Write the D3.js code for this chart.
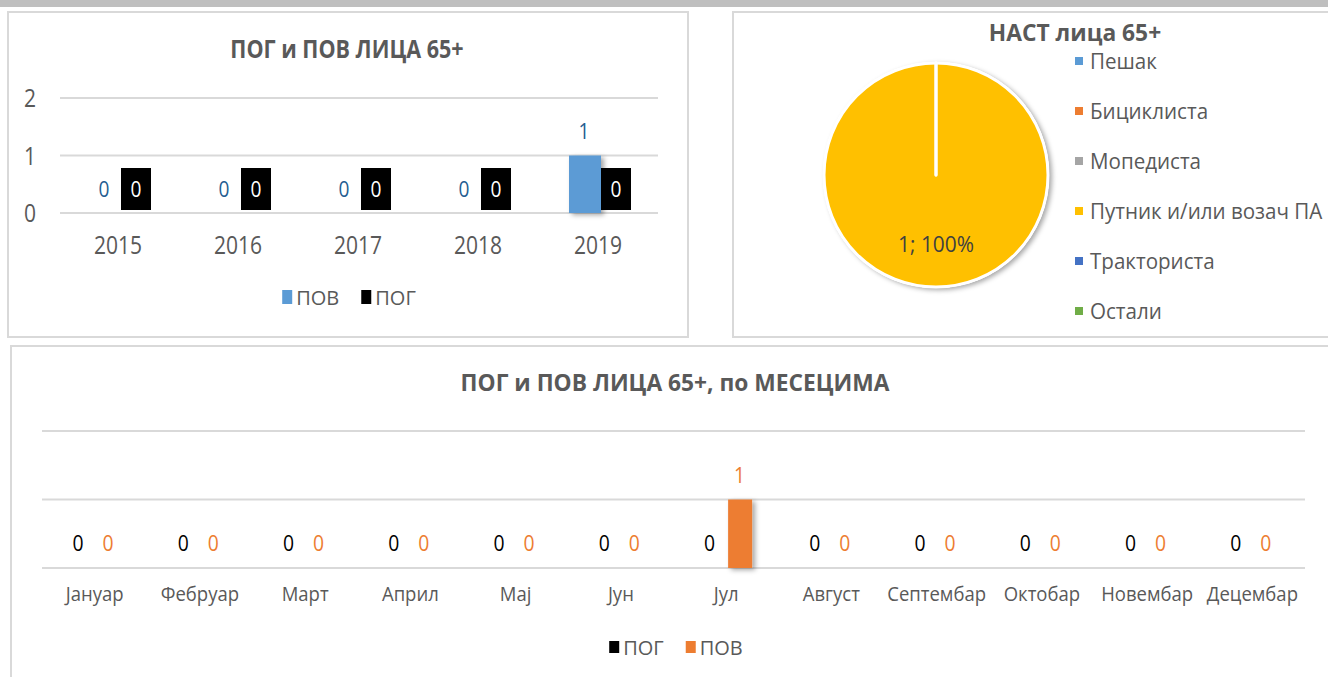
<!DOCTYPE html>
<html>
<head>
<meta charset="utf-8">
<script src="https://cdn.jsdelivr.net/npm/d3@7"></script>
<style>
  body { margin: 0; background: #fff; }
  svg { display: block; }
  text { font-family: "Open Sans", "Noto Sans", sans-serif; }
</style>
</head>
<body>
<svg id="chart" width="1328" height="677"></svg>
<script>
// data
const years = ["2015", "2016", "2017", "2018", "2019"];
const povByYear = [0, 0, 0, 0, 1];
const pogByYear = [0, 0, 0, 0, 0];

const pieCategories = ["Пешак", "Бициклиста", "Мопедиста", "Путник и/или возач ПА", "Тракториста", "Остали"];
const pieValues = [0, 0, 0, 1, 0, 0];
const pieColors = ["#5b9bd5", "#ed7d31", "#a5a5a5", "#ffc000", "#4472c4", "#70ad47"];

const months = ["Јануар", "Фебруар", "Март", "Април", "Мај", "Јун", "Јул", "Август", "Септембар", "Октобар", "Новембар", "Децембар"];
const pogByMonth = [0, 0, 0, 0, 0, 0, 0, 0, 0, 0, 0, 0];
const povByMonth = [0, 0, 0, 0, 0, 0, 1, 0, 0, 0, 0, 0];

const yTicks = [0, 1, 2];

const textColor = "#595959";
const gridColor = "#d9d9d9";

const svg = d3.select("#chart");

// the original text looks tall and narrow (Calibri, stretched), so squeeze it horizontally
const tr = (x, y, s) => `translate(${x},${y}) scale(${s},1)`;

// shadow for bars and pie
const defs = svg.append("defs");
const shadow = defs.append("filter").attr("id", "shadow")
    .attr("x", "-30%").attr("y", "-10%").attr("width", "170%").attr("height", "130%");
shadow.append("feDropShadow")
    .attr("dx", 3).attr("dy", 2).attr("stdDeviation", 2.5)
    .attr("flood-color", "#000").attr("flood-opacity", 0.35);

// top strip
svg.append("rect").attr("x", 0).attr("y", 0).attr("width", 1328).attr("height", 7).attr("fill", "#bfbfbf");

// panels
function panel(x, y, w, h) {
    svg.append("rect")
        .attr("x", x).attr("y", y).attr("width", w).attr("height", h)
        .attr("fill", "#fff").attr("stroke", gridColor).attr("stroke-width", 2);
}
panel(8, 12, 680, 325);
panel(733, 12, 600, 325);
panel(11, 346, 1325, 340);

function title(x, y, txt, size, s) {
    svg.append("text").attr("transform", tr(x, y, s))
        .attr("text-anchor", "middle")
        .attr("font-size", size).attr("font-weight", "bold")
        .attr("fill", textColor).text(txt);
}

function legend(items, cx, y, sw, sh) {
    const g = svg.append("g");
    let x = 0;
    items.forEach(it => {
        const item = g.append("g").attr("transform", `translate(${x},0)`);
        item.append("rect").attr("x", 0).attr("y", y - sh / 2 - 1).attr("width", sw).attr("height", sh).attr("fill", it.color);
        const t = item.append("text").attr("x", sw + 4).attr("y", y + 7)
            .attr("font-size", 20).attr("fill", textColor).text(it.name);
        x += sw + 4 + t.node().getComputedTextLength() + 22;
    });
    const w = x - 22;
    g.attr("transform", `translate(${cx - w / 2},0)`);
}

// ---------- chart 1: by year ----------
{
    const x = d3.scaleBand().domain(years).range([58, 658]);
    const sub = d3.scaleBand().domain(["ПОВ", "ПОГ"]).range([0, 60]);
    const y = d3.scaleLinear().domain([0, 2]).range([213, 98]);

    title(347, 58, "ПОГ и ПОВ ЛИЦА 65+", 24.5, 0.88);

    svg.append("g").selectAll("line").data(yTicks).join("line")
        .attr("x1", 60).attr("x2", 658)
        .attr("y1", d => y(d)).attr("y2", d => y(d))
        .attr("stroke", gridColor).attr("stroke-width", 2);

    svg.append("g").selectAll("text").data(yTicks).join("text")
        .attr("transform", d => tr(30, y(d) + 9, 0.81))
        .attr("text-anchor", "middle").attr("font-size", 26).attr("fill", textColor)
        .text(d => d);

    svg.append("g").selectAll("text").data(years).join("text")
        .attr("transform", d => tr(x(d) + x.bandwidth() / 2, 254, 0.81))
        .attr("text-anchor", "middle").attr("font-size", 26).attr("fill", textColor)
        .text(d => d);

    const grpX = d => x(d) + x.bandwidth() / 2 - 29;

    // ПОВ bars
    svg.append("g").selectAll("rect").data(years).join("rect")
        .attr("x", d => grpX(d) + sub("ПОВ"))
        .attr("width", sub.bandwidth() + 2)
        .attr("y", (d, i) => y(povByYear[i]))
        .attr("height", (d, i) => y(0) - y(povByYear[i]))
        .attr("fill", "#5b9bd5")
        .attr("filter", "url(#shadow)");

    // ПОВ labels
    svg.append("g").selectAll("text").data(years).join("text")
        .attr("transform", (d, i) => tr(grpX(d) + sub("ПОВ") + sub.bandwidth() / 2,
            povByYear[i] > 0 ? y(povByYear[i]) - 17 : 197, 0.87))
        .attr("text-anchor", "middle").attr("font-size", 22).attr("fill", "#255e91")
        .text((d, i) => povByYear[i]);

    // ПОГ bars (zero height) and black label boxes
    svg.append("g").selectAll("rect").data(years).join("rect")
        .attr("x", d => grpX(d) + sub("ПОГ") + 2)
        .attr("width", sub.bandwidth() - 1)
        .attr("y", (d, i) => y(pogByYear[i]))
        .attr("height", (d, i) => y(0) - y(pogByYear[i]))
        .attr("fill", "#000");

    const pogLab = svg.append("g").selectAll("g").data(years).join("g")
        .attr("transform", d => `translate(${grpX(d) + sub("ПОГ") + 2},168)`);
    pogLab.append("rect").attr("width", 30).attr("height", 42).attr("fill", "#000");
    pogLab.append("text").attr("transform", tr(15, 29, 0.87))
        .attr("text-anchor", "middle").attr("font-size", 22).attr("fill", "#fff")
        .text((d, i) => pogByYear[i]);

    legend([{ name: "ПОВ", color: "#5b9bd5" }, { name: "ПОГ", color: "#000" }], 349, 298, 10, 14);
}

// ---------- chart 2: pie ----------
{
    const cx = 936, cy = 175, r = 112;
    title(1075, 41, "НАСТ лица 65+", 23.5, 0.97);

    const pie = d3.pie().sort(null).value(d => d)(pieValues);
    const arc = d3.arc().innerRadius(0).outerRadius(r);

    const g = svg.append("g").attr("transform", `translate(${cx},${cy})`);
    g.append("circle").attr("r", r + 1).attr("fill", "#fff").attr("filter", "url(#shadow)");
    g.selectAll("path").data(pie).join("path")
        .attr("d", arc)
        .attr("fill", (d, i) => pieColors[i])
        .attr("stroke", "#fff").attr("stroke-width", 3).attr("stroke-linejoin", "round");

    const total = d3.sum(pieValues);
    pie.forEach((d, i) => {
        if (d.value <= 0) return;
        g.append("text").attr("transform", tr(0, 77, 0.95))
            .attr("text-anchor", "middle").attr("font-size", 22).attr("fill", "#404040")
            .text(`${d.value}; ${Math.round(d.value / total * 100)}%`);
    });

    const ly = d3.scalePoint().domain(pieCategories).range([61, 311]);
    const lg = svg.append("g").selectAll("g").data(pieCategories).join("g")
        .attr("transform", d => `translate(1075,${ly(d)})`);
    lg.append("rect").attr("x", 0).attr("y", -4).attr("width", 8).attr("height", 8)
        .attr("fill", (d, i) => pieColors[i]);
    lg.append("text").attr("transform", tr(15, 8, 0.98))
        .attr("font-size", 21).attr("fill", textColor).text(d => d);
}

// ---------- chart 3: by month ----------
{
    const x = d3.scaleBand().domain(months).range([42, 1305]);
    const y = d3.scaleLinear().domain([0, 2]).range([568, 431]);
    const sub = d3.scaleBand().domain(["ПОГ", "ПОВ"]).range([-29, 29]);

    title(675, 391, "ПОГ и ПОВ ЛИЦА 65+, по МЕСЕЦИМА", 23, 0.99);

    svg.append("g").selectAll("line").data(yTicks).join("line")
        .attr("x1", 42).attr("x2", 1305)
        .attr("y1", d => y(d)).attr("y2", d => y(d))
        .attr("stroke", gridColor).attr("stroke-width", 2);

    svg.append("g").selectAll("text").data(months).join("text")
        .attr("transform", d => tr(x(d) + x.bandwidth() / 2, 601, 0.95))
        .attr("text-anchor", "middle").attr("font-size", 19.5).attr("fill", textColor)
        .text(d => d);

    const cx = d => x(d) + x.bandwidth() / 2;

    svg.append("g").selectAll("rect").data(months).join("rect")
        .attr("x", d => cx(d) + sub("ПОВ") + 2)
        .attr("width", sub.bandwidth() - 5)
        .attr("y", (d, i) => y(povByMonth[i]))
        .attr("height", (d, i) => y(0) - y(povByMonth[i]))
        .attr("fill", "#ed7d31")
        .attr("filter", "url(#shadow)");

    svg.append("g").selectAll("text").data(months).join("text")
        .attr("transform", d => tr(cx(d) + sub("ПОГ") + sub.bandwidth() / 2 - 2, 551, 0.9))
        .attr("text-anchor", "middle").attr("font-size", 21.5).attr("fill", "#000")
        .text((d, i) => pogByMonth[i]);

    svg.append("g").selectAll("text").data(months).join("text")
        .attr("transform", (d, i) => tr(cx(d) + sub("ПОВ") + sub.bandwidth() / 2 - 1,
            povByMonth[i] > 0 ? y(povByMonth[i]) - 17 : 551, 0.9))
        .attr("text-anchor", "middle").attr("font-size", 21.5).attr("fill", "#ed7d31")
        .text((d, i) => povByMonth[i]);

    legend([{ name: "ПОГ", color: "#000" }, { name: "ПОВ", color: "#ed7d31" }], 676, 648, 10, 12);
}
</script>
</body>
</html>
